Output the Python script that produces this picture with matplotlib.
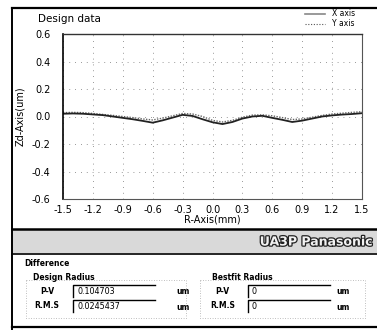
import numpy as np
import matplotlib
matplotlib.use("Agg")
import matplotlib.pyplot as plt
import matplotlib.patheffects as pe
from matplotlib.patches import Rectangle

# profile data (R in mm, Zd in um)
r_mm = [-1.5, -1.4, -1.3, -1.2, -1.1, -1.0, -0.9, -0.8, -0.7, -0.6, -0.5,
        -0.4, -0.3, -0.2, -0.1, 0.0, 0.1, 0.2, 0.3, 0.4, 0.5,
        0.6, 0.7, 0.8, 0.9, 1.0, 1.1, 1.2, 1.3, 1.4, 1.5]
zd_x = [0.020, 0.022, 0.020, 0.015, 0.010, 0.000, -0.010, -0.020, -0.032, -0.045, -0.028,
        -0.008, 0.012, 0.004, -0.020, -0.042, -0.055, -0.040, -0.015, 0.000, 0.005,
        -0.010, -0.024, -0.040, -0.030, -0.015, 0.000, 0.008, 0.014, 0.018, 0.024]
zd_y = [0.028, 0.030, 0.028, 0.022, 0.015, 0.008, 0.000, -0.008, -0.018, -0.025, -0.012,
        0.005, 0.022, 0.018, 0.000, -0.028, -0.040, -0.028, -0.005, 0.010, 0.012,
        0.005, -0.008, -0.022, -0.018, -0.005, 0.008, 0.018, 0.024, 0.030, 0.035]
x_ticks = [-1.5, -1.2, -0.9, -0.6, -0.3, 0.0, 0.3, 0.6, 0.9, 1.2, 1.5]
y_ticks = [-0.6, -0.4, -0.2, 0.0, 0.2, 0.4, 0.6]

pv_design = "0.104703"
rms_design = "0.0245437"
pv_best = "0"
rms_best = "0"

W, H = 377, 330
fig = plt.figure(figsize=(W / 100, H / 100), dpi=100)
fig.patch.set_facecolor("white")
plt.rcParams['font.family'] = ['DejaVu Sans']

# overlay in pixel coordinates for the window decoration
ui = fig.add_axes([0, 0, 1, 1])
ui.set_xlim(0, W)
ui.set_ylim(H, 0)
ui.axis("off")

# outer frame
ui.plot([12, 377], [8, 8], color="black", lw=1.6)
ui.plot([12, 12], [8, 330], color="black", lw=1.4)
ui.plot([12, 377], [327, 327], color="black", lw=1.6)
ui.plot([12, 377], [228.5, 228.5], color="black", lw=1.8)
ui.add_patch(Rectangle((13, 230), 364, 23, facecolor="#d9d9d9", edgecolor="none"))
ui.plot([12, 377], [254, 254], color="black", lw=1.2)
ui.text(372, 242, "UA3P Panasonic", ha="right", va="center", fontsize=9,
        fontweight="bold", color="#f2f2f2",
        path_effects=[pe.withStroke(linewidth=1.8, foreground="#222222")])

# chart texts
ui.text(38, 19, "Design data", ha="left", va="center", fontsize=7.5)
ui.text(20, 116, "Zd-Axis(um)", ha="center", va="center", rotation=90, fontsize=7)
ui.text(212, 220, "R-Axis(mm)", ha="center", va="center", fontsize=7)
ui.plot([305, 325], [14, 14], color="#888888", lw=1.2)
ui.text(332, 14, "X axis", ha="left", va="center", fontsize=5.5)
ui.plot([305, 325], [24, 24], color="#555555", lw=0.8, ls=(0, (1, 1.5)))
ui.text(332, 24, "Y axis", ha="left", va="center", fontsize=5.5)

# bottom panel
ui.text(24, 263, "Difference", ha="left", va="center", fontsize=5.5, fontweight="bold")
ui.add_patch(Rectangle((26, 280), 160, 38, facecolor="none", edgecolor="#aaaaaa",
                       lw=0.6, ls=(0, (1, 2))))
ui.add_patch(Rectangle((200, 280), 165, 38, facecolor="none", edgecolor="#aaaaaa",
                       lw=0.6, ls=(0, (1, 2))))
ui.text(33, 278, "Design Radius", ha="left", va="center", fontsize=5.5, fontweight="bold")
ui.text(212, 278, "Bestfit Radius", ha="left", va="center", fontsize=5.5, fontweight="bold")


def field(x, y, label_x, label, value, unit_x):
    ui.text(label_x, y, label, ha="left", va="center", fontsize=5.5, fontweight="bold")
    ui.add_patch(Rectangle((x, y - 6), 82, 12, facecolor="white", edgecolor="none"))
    ui.plot([x, x, x + 82], [y + 6, y - 6, y - 6], color="black", lw=1.0)
    ui.text(x + 4, y + 0.5, value, ha="left", va="center", fontsize=5.8)
    ui.text(unit_x, y + 1, "um", ha="left", va="center", fontsize=5.5, fontweight="bold")


field(73, 291, 40, "P-V", pv_design, 176)
field(73, 306, 34, "R.M.S", rms_design, 176)
field(248, 291, 215, "P-V", pv_best, 336)
field(248, 306, 210, "R.M.S", rms_best, 336)

# profile plot
ax = fig.add_axes([63 / W, (H - 199) / H, 299 / W, 165 / H])
ax.plot(r_mm, zd_y, color="#666666", lw=1.0, ls=(0, (1, 1)))
ax.plot(r_mm, zd_x, color="#222222", lw=1.3)
ax.set_xlim(-1.5, 1.5)
ax.set_ylim(-0.6, 0.6)
ax.set_xticks(x_ticks)
ax.set_yticks(y_ticks)
ax.set_xticklabels(["%.1f" % v for v in x_ticks])
ax.set_yticklabels(["%.1f" % v for v in y_ticks])
ax.tick_params(length=0, labelsize=7)
ax.tick_params(axis="y", pad=9)
ax.tick_params(axis="x", pad=4)
ax.grid(True, color="#777777", lw=0.6, ls=(0, (1, 6)))
for side in ["right", "bottom"]:
    ax.spines[side].set_color("#555555")
    ax.spines[side].set_linewidth(0.8)
ax.spines["top"].set_color("#333333")
ax.spines["top"].set_linewidth(1.0)
ax.spines["left"].set_color("black")
ax.spines["left"].set_linewidth(1.2)

fig.savefig("out.png", dpi=100)
